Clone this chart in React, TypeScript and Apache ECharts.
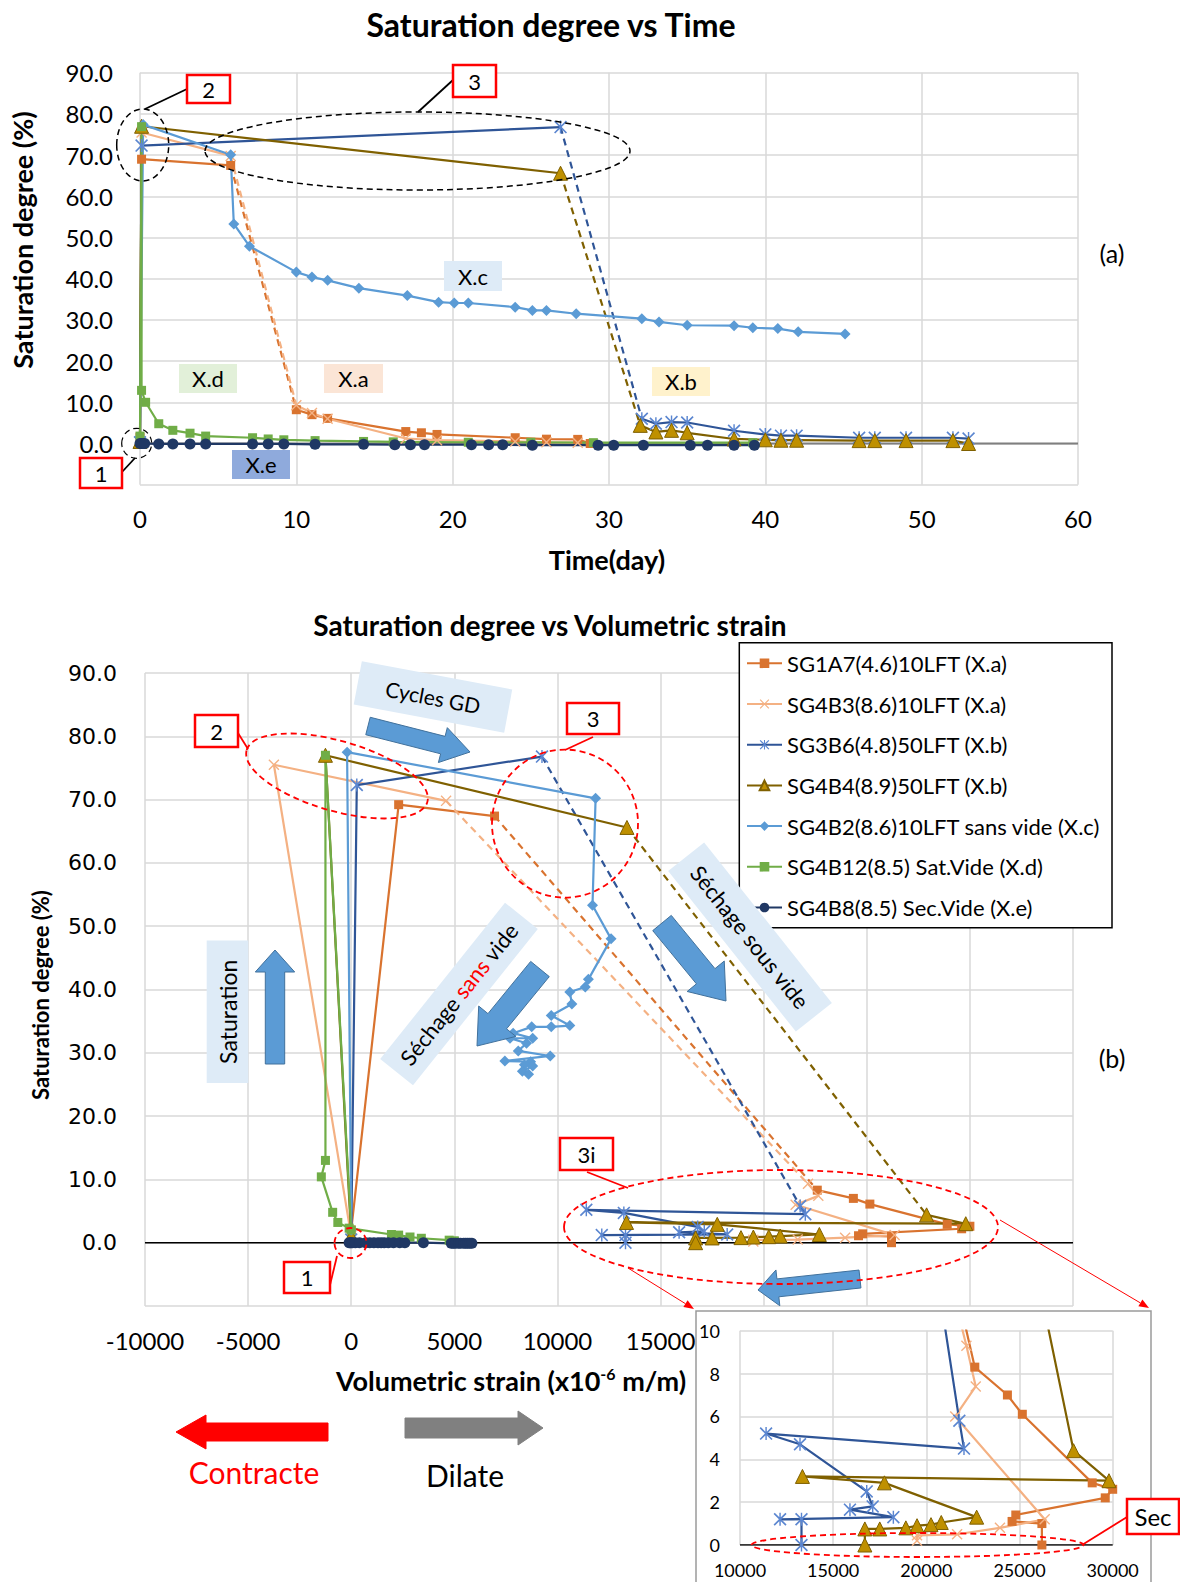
import React, { useEffect, useRef } from "react";
import * as echarts from "echarts";

const FONT = "Lato, 'Open Sans', sans-serif";

// ---------------- Chart (a): Saturation degree vs Time ----------------
const aSG1A7_t = [0, 0.1, 5.8, 10.0, 11.0, 12.0, 17.0, 18.0, 19.0, 24.0, 26.0, 28.0, 28.8];
const aSG1A7_s = [1.5, 69.0, 67.5, 8.2, 7.0, 6.1, 2.9, 2.6, 2.2, 1.4, 1.05, 1.0, 0.0];
const aSG4B3_t = [0, 0.1, 5.8, 10.0, 11.0, 12.0, 17.0, 19.0, 24.0, 26.0, 28.0];
const aSG4B3_s = [0.5, 75.5, 69.8, 9.3, 7.4, 6.0, 1.2, 0.8, 0.5, 0.3, 0.2];
const aSG3B6_t = [0, 0.1, 26.9, 32.1, 33.0, 34.0, 35.0, 38.0, 40.0, 41.0, 42.0, 46.0, 47.0, 49.0, 52.0, 53.0];
const aSG3B6_s = [0.3, 72.3, 76.8, 6.0, 4.8, 5.2, 5.1, 3.1, 2.2, 1.9, 1.9, 1.4, 1.4, 1.4, 1.4, 1.2];
const aSG4B4_t = [0, 0.1, 26.9, 32.0, 33.0, 34.0, 35.0, 38.0, 40.0, 41.0, 42.0, 46.0, 47.0, 49.0, 52.0, 53.0];
const aSG4B4_s = [0.5, 77.0, 65.6, 4.4, 2.8, 3.2, 2.6, 1.1, 0.9, 0.8, 0.8, 0.7, 0.7, 0.7, 0.7, 0.0];
const aSG4B2_t = [0, 0.2, 5.8, 6.0, 7.0, 10.0, 11.0, 12.0, 14.0, 17.1, 19.1, 20.1, 21.0, 24.0, 25.1, 26.0, 27.9, 32.1, 33.2, 35.0, 38.0, 39.2, 40.8, 42.1, 45.1];
const aSG4B2_s = [1.5, 77.4, 70.1, 53.3, 47.9, 41.6, 40.4, 39.6, 37.7, 35.9, 34.3, 34.1, 34.1, 33.1, 32.3, 32.3, 31.5, 30.3, 29.5, 28.7, 28.6, 28.1, 27.9, 27.1, 26.6];
const aSG4B12_t = [0, 0.1, 0.1, 0.36, 1.2, 2.1, 3.2, 4.2, 7.2, 8.2, 9.2, 11.2, 14.3, 16.2, 21.0, 25.0, 29.0, 39.2];
const aSG4B12_s = [1.8, 76.9, 12.9, 10.0, 4.8, 3.2, 2.5, 1.8, 1.4, 1.1, 0.9, 0.7, 0.5, 0.4, 0.3, 0.3, 0.2, 0.2];
const aSG4B8_t = [0, 0.1, 0.2, 0.3, 1.2, 2.1, 3.2, 4.2, 7.2, 8.2, 9.2, 11.2, 14.3, 16.3, 17.3, 18.2, 21.2, 22.3, 23.2, 25.1, 29.3, 30.3, 32.2, 35.2, 36.3, 38.0, 39.3];
const aSG4B8_s = [0, 0, 0, 0, -0.1, -0.1, -0.1, -0.1, -0.1, -0.1, -0.1, -0.2, -0.2, -0.3, -0.3, -0.3, -0.3, -0.3, -0.3, -0.4, -0.4, -0.4, -0.4, -0.4, -0.4, -0.4, -0.4];

// ---------------- Chart (b): Saturation degree vs Volumetric strain ----------------
const bSG1A7_e = [0, 2300, 6950, 22600, 24350, 25150, 28900, 30000, 29600, 24800, 24600, 26200, 26200];
const bSG1A7_s = [2.0, 69.2, 67.4, 8.3, 7.0, 6.1, 2.9, 2.6, 2.2, 1.4, 1.1, 1.0, 0.0];
const bSG4B3_e = [0, -3750, 4600, 22150, 22650, 21550, 26350, 23950, 21650, 19500, 19500];
const bSG4B3_s = [1.0, 75.5, 69.8, 9.3, 7.4, 6.0, 1.2, 0.8, 0.5, 0.45, 0.2];
const bSG3B6_e = [0, 270, 9250, 21770, 22020, 11400, 13220, 16800, 17120, 15900, 18230, 12150, 13300, 13300];
const bSG3B6_s = [0.5, 72.3, 76.8, 5.8, 4.5, 5.2, 4.7, 2.5, 1.8, 1.65, 1.3, 1.2, 1.2, 0.0];
const bSG4B4_e = [0, -1250, 13370, 27900, 29800, 13350, 17750, 22700, 20800, 20250, 19500, 18900, 17500, 16700, 16700];
const bSG4B4_s = [1.0, 77.0, 65.6, 4.4, 3.0, 3.2, 2.9, 1.3, 1.05, 0.95, 0.9, 0.8, 0.75, 0.75, 0.0];
const bSG4B2_e = [0, -200, 11850, 11700, 12600, 11500, 11350, 10600, 10700, 9700, 10600, 9700, 8750, 7850, 8800, 7700, 8500, 8100, 9650, 7450, 8700, 8400, 8800, 8300, 8600];
const bSG4B2_s = [2.0, 77.5, 70.2, 53.3, 48.0, 41.6, 40.4, 39.6, 37.7, 35.9, 34.3, 34.1, 34.1, 33.1, 32.3, 32.3, 31.5, 30.3, 29.5, 28.7, 28.6, 28.1, 27.9, 27.1, 26.6];
const bSG4B12_e = [0, -1250, -1250, -1450, -900, -650, -100, 1950, 2300, 2850, 3400, 4750, 5000];
const bSG4B12_s = [2.0, 77.0, 13.0, 10.4, 4.8, 3.2, 2.3, 1.3, 1.2, 0.9, 0.7, 0.4, 0.3];
const bSG4B8_e = [-100, -50, 0, 60, 200, 400, 700, 900, 1100, 1300, 1450, 1600, 1800, 2050, 2350, 2600, 3500, 4850, 4950, 5050, 5200, 5300, 5450, 5550, 5650, 5750, 5850];
const bSG4B8_s = [0, 0, 0, 0, 0, 0, 0, 0, 0, 0, 0, 0, 0, 0, 0, 0, 0, -0.1, -0.1, -0.1, -0.1, -0.1, -0.1, -0.1, -0.1, -0.1, -0.1];

const NAMES = [
  "SG1A7(4.6)10LFT (X.a)",
  "SG4B3(8.6)10LFT (X.a)",
  "SG3B6(4.8)50LFT (X.b)",
  "SG4B4(8.9)50LFT (X.b)",
  "SG4B2(8.6)10LFT sans vide (X.c)",
  "SG4B12(8.5) Sat.Vide (X.d)",
  "SG4B8(8.5) Sec.Vide (X.e)",
];
// index of the segment (start point) drawn dashed, per series
const DASH_A = [2, 2, 2, 2, null, null, null];
const DASH_B = [2, 2, 2, 2, null, null, null];

const X_SYM = "path://M0,0.9L0.9,0L5,4.1L9.1,0L10,0.9L5.9,5L10,9.1L9.1,10L5,5.9L0.9,10L0,9.1L4.1,5Z";
const AST_SYM = "path://M0,0.9L0.9,0L5,4.1L9.1,0L10,0.9L5.9,5L10,9.1L9.1,10L5,5.9L0.9,10L0,9.1L4.1,5Z M4.45,0L5.55,0L5.55,10L4.45,10Z";
const STYLES: any[] = [
  { line: "#D9732F", symbol: "rect", size: 9, fill: "#D9732F" },
  { line: "#F4B183", symbol: X_SYM, size: 11, fill: "#F4B183" },
  { line: "#2F5597", symbol: AST_SYM, size: 13, fill: "#5B86D0" },
  { line: "#7F6000", symbol: "triangle", size: 14, fill: "#BF9000", border: "#7F6000" },
  { line: "#5B9BD5", symbol: "diamond", size: 11, fill: "#5B9BD5" },
  { line: "#70AD47", symbol: "rect", size: 9, fill: "#70AD47" },
  { line: "#203864", symbol: "circle", size: 11, fill: "#203864" },
];

const zip = (xs: number[], ys: number[]) => xs.map((x, i) => [x, ys[i]]);

const DATA_A = [
  zip(aSG1A7_t, aSG1A7_s), zip(aSG4B3_t, aSG4B3_s), zip(aSG3B6_t, aSG3B6_s), zip(aSG4B4_t, aSG4B4_s),
  zip(aSG4B2_t, aSG4B2_s), zip(aSG4B12_t, aSG4B12_s), zip(aSG4B8_t, aSG4B8_s),
];
const DATA_B = [
  zip(bSG1A7_e, bSG1A7_s), zip(bSG4B3_e, bSG4B3_s), zip(bSG3B6_e, bSG3B6_s), zip(bSG4B4_e, bSG4B4_s),
  zip(bSG4B2_e, bSG4B2_s), zip(bSG4B12_e, bSG4B12_s), zip(bSG4B8_e, bSG4B8_s),
];

function mkSeries(name: string, pts: number[][], dashAt: number | null, st: any, ai: number, tag: string) {
  const base: any = {
    type: "line", xAxisIndex: ai, yAxisIndex: ai,
    symbol: st.symbol, symbolSize: st.size, showSymbol: true,
    itemStyle: { color: st.fill, borderColor: st.border || st.fill, borderWidth: st.border ? 1 : 0 },
    lineStyle: { color: st.line, width: 2.2 },
    emphasis: { disabled: true }, clip: true, z: 3,
  };
  if (dashAt == null) return [{ ...base, name: tag ? name + tag : name, data: pts }];
  return [
    { ...base, name: tag ? name + tag : name, data: pts.slice(0, dashAt + 1) },
    { ...base, name: name + tag + " dash", data: pts.slice(dashAt, dashAt + 2), symbol: "none", lineStyle: { color: st.line, width: 2.2, type: [7, 5] } },
    { ...base, name: name + tag + " after", data: pts.slice(dashAt + 1) },
  ];
}

function valAxis(gi: number, min: number, max: number, interval: number, fmt: any, fontSize: number, margin: number, family = FONT) {
  return {
    type: "value", gridIndex: gi, min, max, interval,
    axisLine: { show: false }, axisTick: { show: false },
    splitLine: { show: true, lineStyle: { color: "#d9d9d9", width: 1.5 } },
    axisLabel: { formatter: fmt, fontSize, fontFamily: family, color: "#000", margin },
  };
}

// ----- graphic helpers -----
const T = (x: number, y: number, text: string, fontSize: number, bold = false, rotDeg = 0, fill = "#000") => ({
  type: "text", x, y, rotation: (rotDeg * Math.PI) / 180, z: 120, silent: true,
  style: { text, fontSize, fontFamily: FONT, fontWeight: bold ? "bold" : "normal", fill, align: "center", verticalAlign: "middle" },
});
const box = (x1: number, y1: number, x2: number, y2: number, text: string, fill: string, stroke = "none", fs = 22) => [
  { type: "rect", z: 110, silent: true, shape: { x: x1, y: y1, width: x2 - x1, height: y2 - y1 }, style: { fill, stroke, lineWidth: 2.5 } },
  T((x1 + x2) / 2, (y1 + y2) / 2, text, fs),
];
const ln = (x1: number, y1: number, x2: number, y2: number, stroke: string, w = 1.8) => ({
  type: "line", z: 105, silent: true, shape: { x1, y1, x2, y2 }, style: { stroke, lineWidth: w },
});
const ell = (cx: number, cy: number, rx: number, ry: number, stroke: string, rotDeg = 0, w = 1.8) => ({
  type: "ellipse", z: 106, silent: true, x: cx, y: cy, rotation: (rotDeg * Math.PI) / 180,
  shape: { cx: 0, cy: 0, rx, ry }, style: { fill: "none", stroke, lineWidth: w, lineDash: [6, 4] },
});
function blockArrow(x1: number, y1: number, x2: number, y2: number, sw: number, hw: number, hl: number, fill = "#5B9BD5", stroke = "#41719C") {
  const dx = x2 - x1, dy = y2 - y1, L = Math.hypot(dx, dy);
  const ux = dx / L, uy = dy / L, px = -uy, py = ux;
  const bx = x2 - ux * hl, by = y2 - uy * hl;
  const points = [
    [x1 + px * sw, y1 + py * sw], [bx + px * sw, by + py * sw], [bx + px * hw, by + py * hw], [x2, y2],
    [bx - px * hw, by - py * hw], [bx - px * sw, by - py * sw], [x1 - px * sw, y1 - py * sw],
  ];
  return { type: "polygon", z: 100, silent: true, shape: { points }, style: { fill, stroke, lineWidth: 1 } };
}
function thinArrow(x1: number, y1: number, x2: number, y2: number, color: string) {
  const dx = x2 - x1, dy = y2 - y1, L = Math.hypot(dx, dy);
  const ux = dx / L, uy = dy / L, px = -uy, py = ux;
  const bx = x2 - ux * 10, by = y2 - uy * 10;
  return [
    ln(x1, y1, bx, by, color, 1),
    { type: "polygon", z: 105, silent: true, shape: { points: [[x2, y2], [bx + px * 4, by + py * 4], [bx - px * 4, by - py * 4]] }, style: { fill: color } },
  ];
}
function rotBox(cx: number, cy: number, w: number, h: number, deg: number, textStyle: any) {
  return {
    type: "group", x: cx, y: cy, rotation: (deg * Math.PI) / 180, z: 95, silent: true,
    children: [
      { type: "rect", z: 95, shape: { x: -w / 2, y: -h / 2, width: w, height: h }, style: { fill: "#DEEBF7" } },
      { type: "text", z: 96, x: 0, y: 0, style: { fontSize: 21, fontFamily: FONT, fill: "#000", align: "center", verticalAlign: "middle", ...textStyle } },
    ],
  };
}

function buildOption() {
  const series: any[] = [];
  // zero lines
  series.push({ type: "line", xAxisIndex: 0, yAxisIndex: 0, data: [[0, 0], [60, 0]], symbol: "none", silent: true, lineStyle: { color: "#7f7f7f", width: 2 }, z: 2, name: "zero a" });
  series.push({ type: "line", xAxisIndex: 1, yAxisIndex: 1, data: [[-10000, 0], [35000, 0]], symbol: "none", silent: true, lineStyle: { color: "#000", width: 1.5 }, z: 2, name: "zero b" });
  series.push({ type: "line", xAxisIndex: 2, yAxisIndex: 2, data: [[10000, 0], [30000, 0]], symbol: "none", silent: true, lineStyle: { color: "#000", width: 1.5 }, z: 2, name: "zero c" });

  NAMES.forEach((n, i) => series.push(...mkSeries(n, DATA_B[i], DASH_B[i], STYLES[i], 1, "")));
  NAMES.forEach((n, i) => series.push(...mkSeries(n, DATA_A[i], DASH_A[i], STYLES[i], 0, " (a)")));
  for (let i = 0; i < 4; i++) series.push(...mkSeries(NAMES[i], DATA_B[i], null, STYLES[i], 2, " inset"));

  const g: any[] = [];
  // ---- chart (a) texts
  g.push(T(551, 24, "Saturation degree vs Time", 32, true));
  g.push(T(607, 559, "Time(day)", 27, true));
  g.push(T(22, 240, "Saturation degree (%)", 27, true, 90));
  g.push(T(1112, 253, "(a)", 25));
  g.push(...box(179, 364, 237, 393, "X.d", "#E2F0D9"));
  g.push(...box(324, 364, 383, 393, "X.a", "#FBE5D6"));
  g.push(...box(232, 450, 290, 479, "X.e", "#8FAADC"));
  g.push(...box(444, 261, 502, 291, "X.c", "#DEEBF7"));
  g.push(...box(652, 367, 710, 396, "X.b", "#FFF2CC"));
  g.push(ell(142.7, 145, 26, 36, "#000", 0, 1.5));
  g.push(ell(417.5, 151, 212.5, 39, "#000", 0, 1.5));
  g.push(ell(136.7, 443.3, 15, 15, "#000", 0, 1.2));
  g.push(ln(187, 89, 145, 109, "#000"));
  g.push(ln(453, 80, 418, 112, "#000"));
  g.push(ln(122, 472, 135, 458, "#000"));
  g.push(...box(187, 75, 230, 103, "2", "#fff", "#FF0000"));
  g.push(...box(453, 65, 496, 97, "3", "#fff", "#FF0000"));
  g.push(...box(80, 458, 122, 488, "1", "#fff", "#FF0000"));

  // ---- chart (b) texts
  g.push(T(550, 625, "Saturation degree vs Volumetric strain", 28, true));
  g.push(T(40, 995, "Saturation degree (%)", 22, true, 90));
  g.push({
    type: "text", x: 511, y: 1380, z: 120, silent: true,
    style: {
      text: "{b|Volumetric strain (x10}{s|-6}{b| m/m)}", align: "center", verticalAlign: "middle",
      rich: {
        b: { fontSize: 27, fontWeight: "bold", fontFamily: FONT, fill: "#000", color: "#000" },
        s: { fontSize: 16, fontWeight: "bold", fontFamily: FONT, fill: "#000", color: "#000", padding: [0, 0, 14, 0] },
      },
    },
  });
  g.push(T(1112, 1058, "(b)", 25));
  g.push(blockArrow(328, 1432, 176, 1432, 9, 17, 30, "#FF0000", "#FF0000"));
  g.push(T(254, 1472, "Contracte", 30, false, 0, "#FF0000"));
  g.push(blockArrow(405, 1428, 543, 1428, 10, 17, 25, "#808080", "#808080"));
  g.push(T(465, 1475, "Dilate", 30));
  // legend frame
  g.push({ type: "rect", z: 3, silent: true, shape: { x: 739.3, y: 642.7, width: 372.7, height: 285 }, style: { fill: "#fff", stroke: "#000", lineWidth: 1.5 } });
  // inset frame
  g.push({ type: "rect", z: 1, silent: true, shape: { x: 696, y: 1311, width: 455, height: 320 }, style: { fill: "none", stroke: "#9a9a9a", lineWidth: 1.5 } });

  // annotation boxes & arrows
  g.push(rotBox(433, 697, 153, 44, -10.6, { text: "Cycles GD" }));
  g.push(blockArrow(368, 726, 470, 752, 9, 18, 28));
  g.push(rotBox(227.5, 1011.8, 142.5, 41.6, 90, { text: "Saturation", fontSize: 23 }));
  g.push(blockArrow(275, 1064, 275, 950, 9.7, 19.7, 22));
  g.push(rotBox(459, 994, 200, 42, 51.4, {
    text: "{a|Séchage }{r|sans}{a| vide}",
    rich: {
      a: { fontSize: 22, fontFamily: FONT, fill: "#000", color: "#000" },
      r: { fontSize: 22, fontFamily: FONT, fill: "#FF0000", color: "#FF0000" },
    },
  }));
  g.push(blockArrow(540, 969, 477, 1046, 12, 24, 32));
  g.push(rotBox(750, 937, 205, 46, -51.5, { text: "Séchage sous vide", fontSize: 22 }));
  g.push(blockArrow(662, 923, 726, 1001, 12, 24, 32));
  g.push(blockArrow(860, 1279, 758, 1290, 9, 18, 20));

  // red ellipses, leaders, boxes
  g.push(ell(337, 776, 94, 35, "#FF0000", -16));
  g.push(ell(565, 823.6, 73, 74, "#FF0000"));
  g.push(ell(781, 1227, 217, 57, "#FF0000"));
  g.push(ell(350.5, 1243, 16, 15, "#FF0000"));
  g.push(ell(917.5, 1545, 166, 12, "#FF0000"));
  g.push(ln(238, 733, 248, 749, "#FF0000"));
  g.push(ln(593, 737, 565, 750, "#FF0000"));
  g.push(ln(587, 1172, 628, 1188, "#FF0000"));
  g.push(ln(330, 1285, 337, 1256, "#FF0000"));
  g.push(ln(1127, 1517, 1082, 1545, "#FF0000"));
  g.push(...thinArrow(628, 1268, 694, 1309, "#FF0000"));
  g.push(...thinArrow(1000, 1220, 1149, 1308, "#FF0000"));
  g.push(...box(195, 715, 238, 747, "2", "#fff", "#FF0000"));
  g.push(...box(567, 703, 619, 734, "3", "#fff", "#FF0000"));
  g.push(...box(560, 1138, 613, 1170, "3i", "#fff", "#FF0000"));
  g.push(...box(284, 1262, 330, 1293, "1", "#fff", "#FF0000"));
  g.push(...box(1127, 1499, 1179, 1534, "Sec", "#fff", "#FF0000", 24));

  const fmt1 = (v: number) => (v < 0 ? "" : v.toFixed(1));

  return {
    animation: false,
    backgroundColor: "#fff",
    grid: [
      { left: 140, top: 72.7, width: 938, height: 412, outerBoundsMode: "none" },
      { left: 145, top: 673, width: 928, height: 633, outerBoundsMode: "none" },
      { left: 740, top: 1330.7, width: 372.7, height: 214.3, outerBoundsMode: "none" },
    ],
    xAxis: [
      valAxis(0, 0, 60, 10, (v: number) => String(v), 24, 22),
      valAxis(1, -10000, 35000, 5000, (v: number) => (v > 15000 ? "" : String(v)), 24, 22),
      valAxis(2, 10000, 30000, 5000, (v: number) => String(v), 18, 16),
    ],
    yAxis: [
      valAxis(0, -10, 90, 10, fmt1, 24, 27),
      valAxis(1, -10, 90, 10, fmt1, 22, 28, "'DejaVu Sans', sans-serif"),
      valAxis(2, 0, 10, 2, (v: number) => String(v), 18, 20),
    ],
    legend: {
      data: NAMES,
      orient: "vertical",
      left: 746, top: 650.3,
      itemWidth: 35, itemHeight: 12, itemGap: 14.7, padding: 0,
      selectedMode: false, z: 10,
      textStyle: { fontFamily: FONT, fontSize: 22, color: "#000", lineHeight: 26 },
    },
    series,
    graphic: { elements: g },
  };
}

export default function App() {
  const ref = useRef<HTMLDivElement>(null);
  useEffect(() => {
    if (!ref.current) return;
    const chart = echarts.init(ref.current, undefined, { renderer: "svg" });
    chart.setOption(buildOption() as any);
    return () => chart.dispose();
  }, []);
  return (
    <div
      ref={ref}
      style={{ position: "absolute", left: 0, top: 0, width: 1180, height: 1582, background: "#fff", overflow: "hidden" }}
    />
  );
}
